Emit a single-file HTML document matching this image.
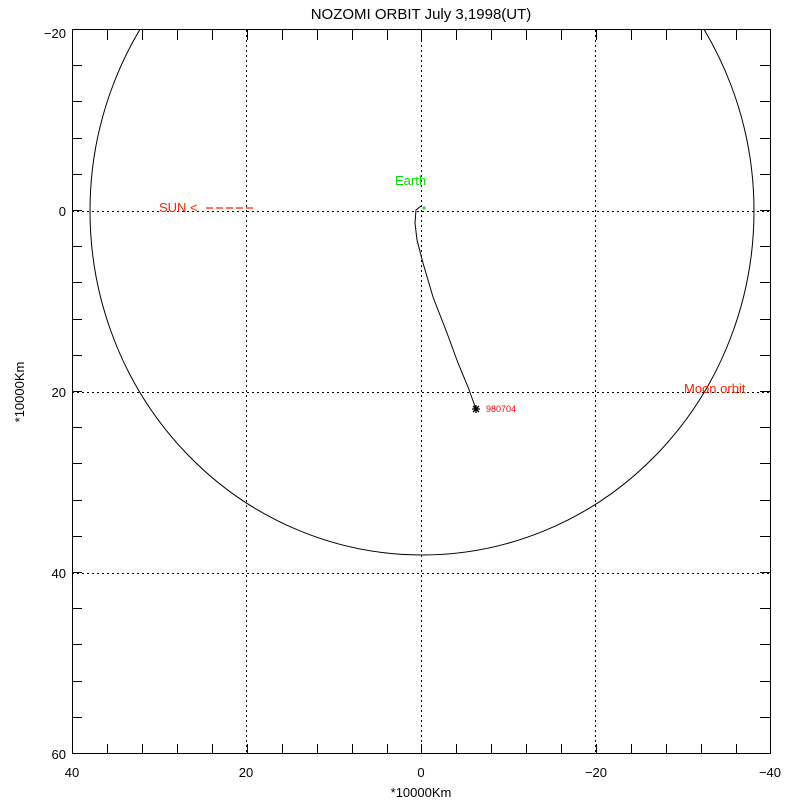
<!DOCTYPE html>
<html><head><style>body{margin:0;background:#fff}svg text{font-family:"Liberation Sans",sans-serif}</style></head><body>
<svg width="800" height="800" xmlns="http://www.w3.org/2000/svg">
<defs><clipPath id="c"><rect x="72" y="30" width="698" height="724"/></clipPath></defs>
<rect x="72.5" y="29.5" width="698" height="724" fill="none" stroke="#000"/>
<g stroke="#000" stroke-dasharray="2,3" stroke-width="1">
<line x1="246.5" y1="30" x2="246.5" y2="754"/><line x1="421.5" y1="30" x2="421.5" y2="754"/><line x1="595.5" y1="30" x2="595.5" y2="754"/>
<line x1="72" y1="211.5" x2="770" y2="211.5"/><line x1="72" y1="392.5" x2="770" y2="392.5"/><line x1="72" y1="573.5" x2="770" y2="573.5"/>
</g>
<path stroke="#000" fill="none" d="
M107.5 754v-10M142.5 754v-10M177.5 754v-10M212.5 754v-10M247.5 754v-10M282.5 754v-10M317.5 754v-10M352.5 754v-10M387.5 754v-10M421.5 754v-10M456.5 754v-10M491.5 754v-10M526.5 754v-10M561.5 754v-10M596.5 754v-10M631.5 754v-10M666.5 754v-10M701.5 754v-10M736.5 754v-10
M107.5 30v10M142.5 30v10M177.5 30v10M212.5 30v10M247.5 30v10M282.5 30v10M317.5 30v10M352.5 30v10M387.5 30v10M421.5 30v10M456.5 30v10M491.5 30v10M526.5 30v10M561.5 30v10M596.5 30v10M631.5 30v10M666.5 30v10M701.5 30v10M736.5 30v10
M72 65.5h10M72 101.5h10M72 138.5h10M72 174.5h10M72 210.5h10M72 246.5h10M72 282.5h10M72 319.5h10M72 355.5h10M72 391.5h10M72 427.5h10M72 463.5h10M72 500.5h10M72 536.5h10M72 572.5h10M72 608.5h10M72 644.5h10M72 681.5h10M72 717.5h10
M770 65.5h-10M770 101.5h-10M770 138.5h-10M770 174.5h-10M770 210.5h-10M770 246.5h-10M770 282.5h-10M770 319.5h-10M770 355.5h-10M770 391.5h-10M770 427.5h-10M770 463.5h-10M770 500.5h-10M770 536.5h-10M770 572.5h-10M770 608.5h-10M770 644.5h-10M770 681.5h-10M770 717.5h-10"/>
<g clip-path="url(#c)"><ellipse cx="422" cy="211" rx="332" ry="344" fill="none" stroke="#000"/></g>
<polyline fill="none" stroke="#000" points="421,206 416,210 415,223 417,240 423,263 433,297 447,333 458,363 468,387 476,409"/>
<path stroke="#000" stroke-width="1.3" d="M472 409h8M476 405v8M473 406l6 6M479 406l-6 6"/>
<text x="486" y="412" font-size="9" fill="#f00">980704</text>
<path stroke="#0c0" d="M422 208h4M424 206v4"/>
<text x="395" y="185" font-size="13" fill="#0d0">Earth</text>
<text x="159" y="212" font-size="13" fill="#f20">SUN &lt;</text>
<path stroke="#f20" stroke-width="1.2" d="M206 208h50" stroke-dasharray="7,3"/>
<text x="684" y="393" font-size="13" fill="#f20">Moon orbit</text>
<text x="421" y="19" font-size="15" text-anchor="middle">NOZOMI ORBIT July 3,1998(UT)</text>
<g font-size="13" text-anchor="middle">
<text x="72" y="777">40</text><text x="246" y="777">20</text><text x="421" y="777">0</text><text x="596" y="777">−20</text><text x="770" y="777">−40</text>
<text x="421" y="797">*10000Km</text>
</g>
<g font-size="13" text-anchor="end">
<text x="66" y="38">−20</text><text x="66" y="216">0</text><text x="66" y="397">20</text><text x="66" y="578">40</text><text x="66" y="759">60</text>
</g>
<text transform="translate(24,392) rotate(-90)" font-size="13" text-anchor="middle">*10000Km</text>
</svg>
</body></html>
